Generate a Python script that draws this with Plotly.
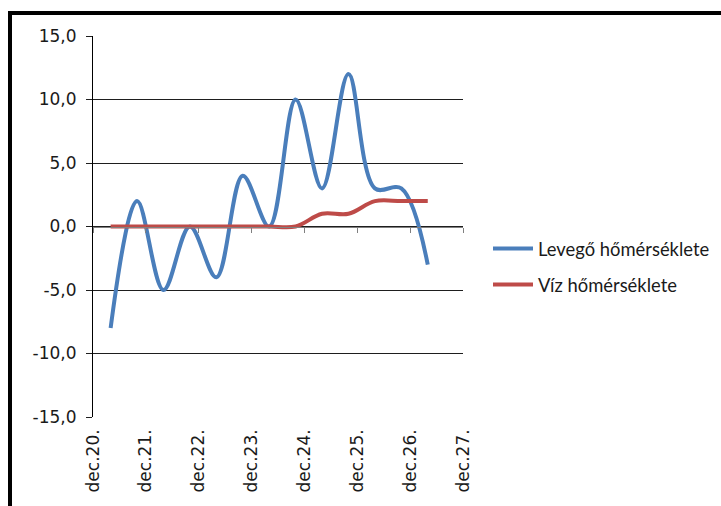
import plotly.graph_objects as go

times = ["2012-12-20 08:00", "2012-12-20 20:00", "2012-12-21 08:00", "2012-12-21 20:00",
         "2012-12-22 08:00", "2012-12-22 20:00", "2012-12-23 08:00", "2012-12-23 20:00",
         "2012-12-24 08:00", "2012-12-24 20:00", "2012-12-25 08:00", "2012-12-25 20:00",
         "2012-12-26 08:00"]
air_temp = [-8, 2, -5, 0, -4, 4, 0, 10, 3, 12, 3, 3, -3]
water_temp = [0, 0, 0, 0, 0, 0, 0, 0, 1, 1, 2, 2, 2]

tick_dates = ["2012-12-20", "2012-12-21", "2012-12-22", "2012-12-23",
              "2012-12-24", "2012-12-25", "2012-12-26", "2012-12-27"]
tick_labels = ["dec.20.", "dec.21.", "dec.22.", "dec.23.",
               "dec.24.", "dec.25.", "dec.26.", "dec.27."]
y_ticks = [-15, -10, -5, 0, 5, 10, 15]
y_labels = ["-15,0", "-10,0", "-5,0", "0,0", "5,0", "10,0", "15,0"]

series_names = ["Levegő hőmérséklete", "Víz hőmérséklete"]
colors = ["#4A7EBB", "#BE4B48"]

L, R, T, B = 93, 258, 36, 89
W, H = 721, 506
pw = W - L - R
ph = H - T - B

fig = go.Figure()
for i, (name, vals) in enumerate(zip(series_names, [air_temp, water_temp])):
    fig.add_trace(go.Scatter(
        x=times, y=vals, name=name, mode="lines",
        line=dict(color=colors[i], width=4, shape="spline", smoothing=1.0),
        legendgroup=f"g{i}", hoverinfo="skip",
    ))

# invisible trace for the zero-line axis with tick marks
fig.add_trace(go.Scatter(x=[tick_dates[0], tick_dates[-1]], y=[0, 0], xaxis="x2",
                         mode="lines", line=dict(width=0), showlegend=False,
                         hoverinfo="skip", opacity=0))

axis_font = dict(family="DejaVu Sans", size=17, color="#1a1a1a")
xrange = [tick_dates[0], tick_dates[-1]]

fig.update_layout(
    width=W, height=H,
    margin=dict(l=L, r=R, t=T, b=B, autoexpand=False),
    paper_bgcolor="white", plot_bgcolor="white",
    showlegend=True,
    legend=dict(
        x=(488 - L) / pw, y=(H - B - 230) / ph, xanchor="left", yanchor="top",
        font=dict(family="Lato, Open Sans", size=18.4, color="#1a1a1a"),
        traceorder="grouped", tracegroupgap=9, bgcolor="rgba(0,0,0,0)",
        itemwidth=40,
    ),
    xaxis=dict(
        type="date", range=xrange,
        tickvals=tick_dates, ticktext=tick_labels, tickangle=-90,
        tickfont=axis_font, showgrid=False, zeroline=False,
        showline=False, ticks="", ticklabelstandoff=8,
    ),
    xaxis2=dict(
        type="date", range=xrange, overlaying="x", anchor="free",
        position=0.5, tickvals=tick_dates, showticklabels=False,
        showline=True, linecolor="#808080", linewidth=1,
        ticks="outside", ticklen=5, tickcolor="#808080", tickwidth=1,
        showgrid=False, zeroline=False,
    ),
    yaxis=dict(
        range=[-15, 15], tickvals=y_ticks, ticktext=y_labels,
        tickfont=axis_font, showgrid=True, gridcolor="#1e1e1e", gridwidth=1,
        zeroline=False, showline=True, linecolor="#000000", linewidth=1,
        ticks="outside", ticklen=6, tickcolor="#1e1e1e", ticklabelstandoff=6,
    ),
    shapes=[
        dict(type="rect", xref="paper", yref="paper",
             x0=(10 - L) / pw, x1=2.0, y0=-1.0, y1=(H - B - 13) / ph,
             line=dict(color="black", width=4), fillcolor="rgba(0,0,0,0)", layer="below"),
    ],
)

fig.write_html("out.html")
